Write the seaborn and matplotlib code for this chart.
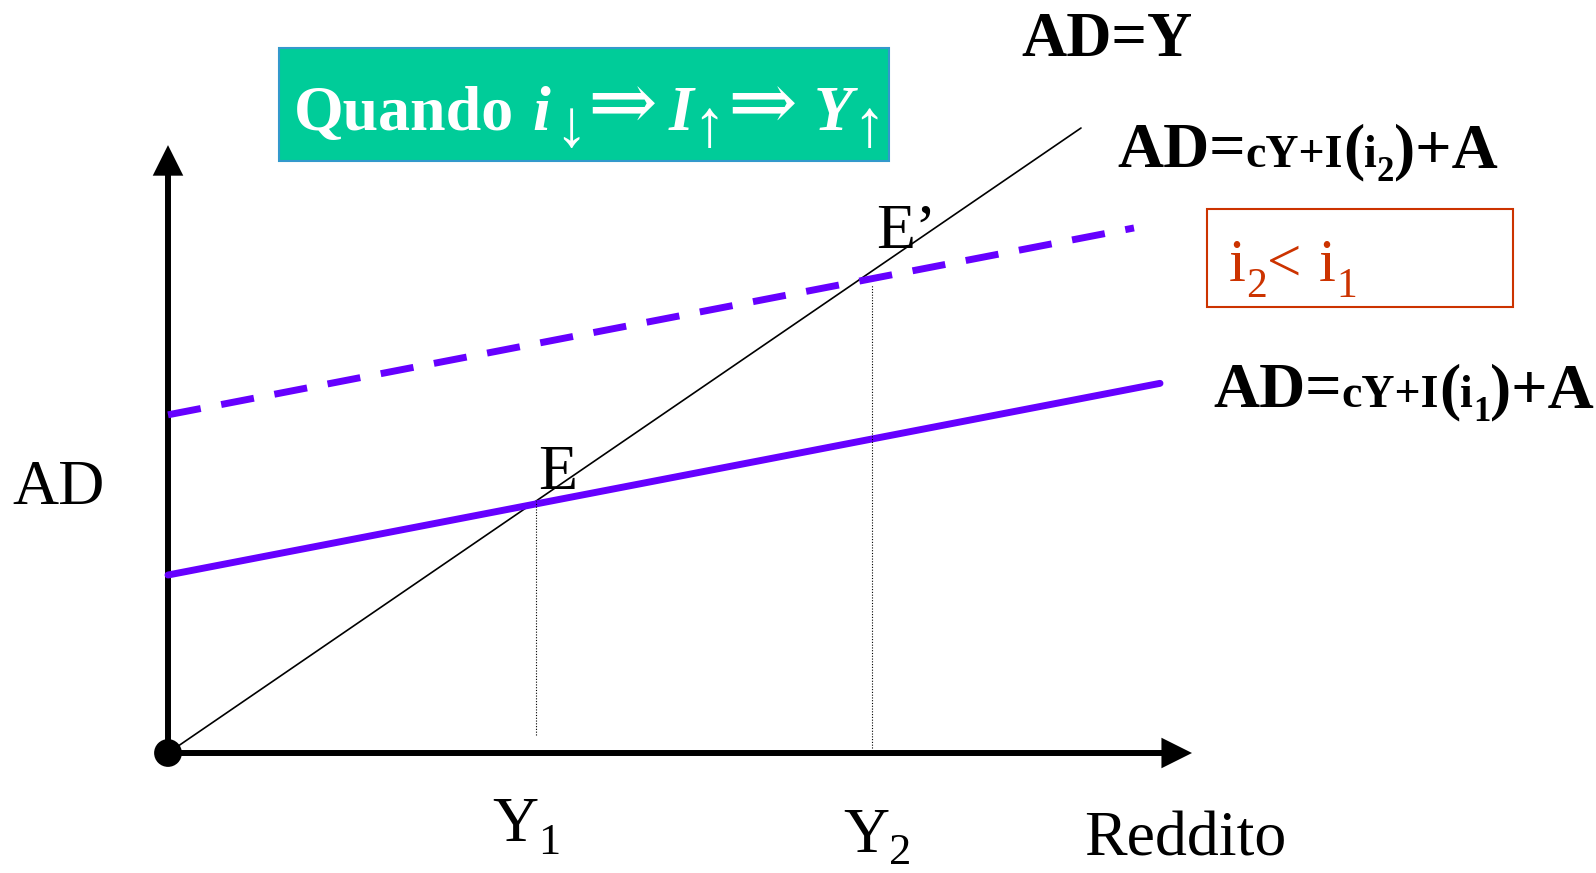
import matplotlib
matplotlib.use('Agg')
import matplotlib.pyplot as plt
import seaborn as sns
from matplotlib.transforms import IdentityTransform
from matplotlib.patches import Rectangle

# --- dati (unità economiche: reddito in x, domanda aggregata in y) ---
x_45 = [0, 9.13]
y_45 = [0, 9.13]
x_ad1 = [0, 9.92]          # AD = cY + I(i1) + A
y_ad1 = [2.60, 5.40]
x_ad2 = [0, 9.66]          # AD = cY + I(i2) + A  (tratteggiata)
y_ad2 = [4.94, 7.67]
y_levels = [3.68, 7.04]    # Y1, Y2
drop_top = [3.68, 6.84]
drop_bottom = [0.26, 0.07]
x_axis_end = 10.24
y_axis_end = 8.88

W, H = 1596, 873
SERIF = ['Liberation Serif', 'DejaVu Serif']
PURPLE = '#6600FF'

sns.set_theme(style='white')
plt.rcParams['font.family'] = SERIF

fig = plt.figure(figsize=(W / 100, H / 100), dpi=100)
ax = fig.add_axes([0, 0, 1, 1])
ax.set_xlim(-1.68, 14.28)
ax.set_ylim(-1.753, 11.0)
ax.axis('off')


def line(x, y, **kw):
    sns.lineplot(x=x, y=y, estimator=None, sort=False, errorbar=None, ax=ax, **kw)


# assi con frecce
line([0, x_axis_end - 0.15], [0, 0], color='black', lw=4.3)
line([0, 0], [0, y_axis_end - 0.22], color='black', lw=4.3)
head = dict(arrowstyle='-|>,head_length=0.4,head_width=0.2', mutation_scale=55,
            lw=0, fc='black', shrinkA=0, shrinkB=0)
ax.annotate('', xy=(x_axis_end, 0), xytext=(0, 0), arrowprops=head)
ax.annotate('', xy=(0, y_axis_end), xytext=(0, 0), arrowprops=head)

# curve
line(x_45, y_45, color='black', lw=1.2)
line(x_ad1, y_ad1, color=PURPLE, lw=5)
line(x_ad2, y_ad2, color=PURPLE, lw=5, linestyle=(0, (4.8, 3.0)), dash_capstyle='butt')
for xv, top, bot in zip(y_levels, drop_top, drop_bottom):
    line([xv, xv], [bot, top], color='black', lw=0.8, linestyle=(0, (1, 1.5)))
sns.scatterplot(x=[0], y=[0], s=400, color='black', edgecolor='none', zorder=5, ax=ax)


def rich(x, y, parts, color='black'):
    # parts: (testo, size, dy px, dx px, weight, style)
    renderer = fig.canvas.get_renderer()
    px, py = x, H - y
    for s, size, dy, dx, weight, style in parts:
        t = ax.text(px + dx, py + dy, s, transform=IdentityTransform(), fontsize=size,
                    fontweight=weight, fontstyle=style, color=color,
                    family=SERIF, ha='left', va='baseline')
        px = t.get_window_extent(renderer).x1


# riquadri
ax.add_patch(Rectangle((279, H - 161), 610, 113, transform=IdentityTransform(),
                       facecolor='#00CC99', edgecolor='#3399CC', lw=1.5, clip_on=False))
ax.add_patch(Rectangle((1207, H - 307), 306, 98, transform=IdentityTransform(),
                       facecolor='none', edgecolor='#CC3300', lw=1.5, clip_on=False))

B, N, I = 'bold', 'normal', 'italic'
rich(294, 130, [('Quando', 46, 0, 0, B, N), ('i', 46, 0, 18, B, I),
                ('↓', 48, -16, 4, N, N), ('⇒', 60, 0, 0, N, N),
                ('I', 46, 0, 12, B, I), ('↑', 48, -16, -2, N, N),
                ('⇒', 60, 0, 2, N, N), ('Y', 46, 0, 16, B, I),
                ('↑', 48, -16, 0, N, N)], color='white')

rich(1021, 56, [('AD=Y', 45, 0, 0, B, N)])
rich(1117, 167, [('AD=', 46, 0, 0, B, N), ('cY+I', 33, 0, 0, B, N), ('(', 46, 0, 0, B, N),
                 ('i', 33, 0, 0, B, N), ('2', 25, -14, 0, B, N), (')+A', 46, 0, 0, B, N)])
rich(1213, 407, [('AD=', 46, 0, 0, B, N), ('cY+I', 33, 0, 0, B, N), ('(', 46, 0, 0, B, N),
                 ('i', 33, 0, 0, B, N), ('1', 25, -14, 0, B, N), (')+A', 46, 0, 0, B, N)])
rich(1229, 281, [('i', 44, 0, 0, N, N), ('2', 30, -16, 0, N, N), ('<', 44, 0, 0, N, N),
                 ('i', 44, 0, 18, N, N), ('1', 30, -16, 0, N, N)], color='#CC3300')

rich(12, 504, [('AD', 46, 0, 0, N, N)])
rich(538, 489, [('E', 46, 0, 0, N, N)])
rich(876, 248, [('E’', 46, 0, 0, N, N)])
rich(492, 841, [('Y', 46, 0, 0, N, N), ('1', 32, -13, 0, N, N)])
rich(843, 852, [('Y', 46, 0, 0, N, N), ('2', 32, -12, 0, N, N)])
rich(1084, 856, [('Reddito', 46, 0, 0, N, N)])

fig.savefig('out.png', dpi=100)
